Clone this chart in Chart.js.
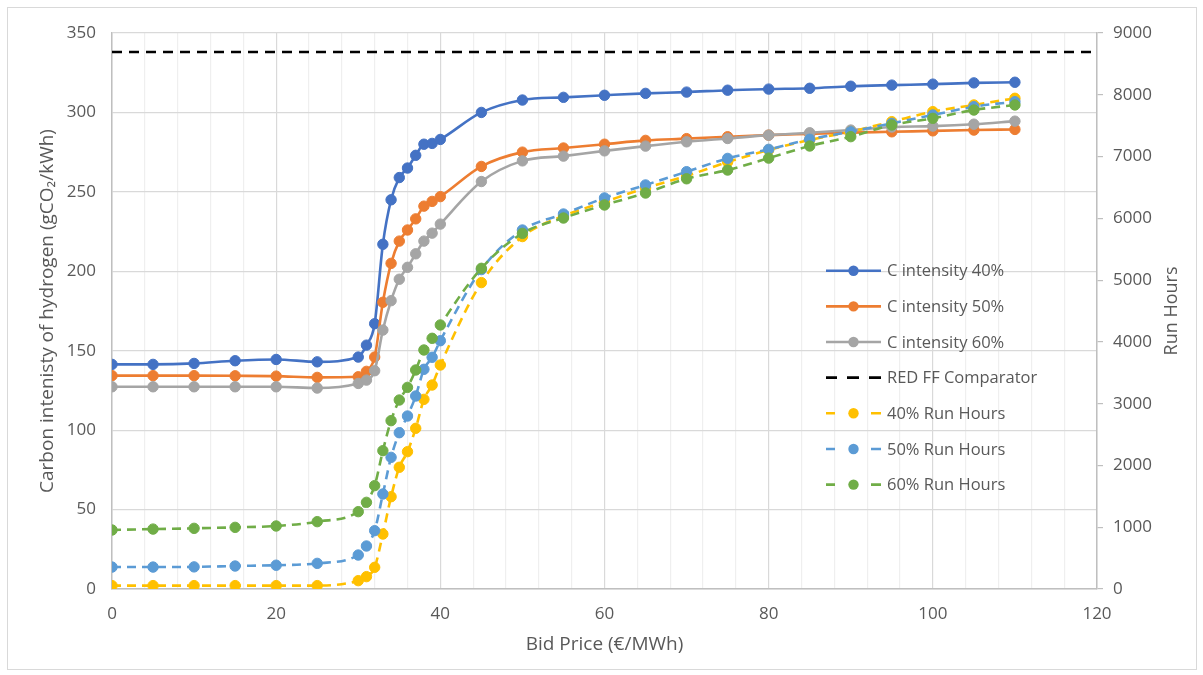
<!DOCTYPE html>
<html><head><meta charset="utf-8">
<script src="https://cdn.jsdelivr.net/npm/chart.js@4.4.0/dist/chart.umd.min.js"></script>
<style>html,body{margin:0;padding:0;background:#fff;}canvas{display:block;}</style>
</head><body>
<canvas id="c" width="1203" height="675"></canvas>
<script>
const bidPrice = [0,5,10,15,20,25,30,31,32,33,34,35,36,37,38,39,40,45,50,55,60,65,70,75,80,85,90,95,100,105,110];
const cInt40 = [141.4,141.4,142,143.7,144.5,143,146,153.5,167,217,245,259,265,273,280,280.5,283,300,307.8,309.5,310.8,312,312.8,314,314.7,315.2,316.5,317.2,317.8,318.6,319];
const cInt50 = [134.3,134.3,134.3,134.2,134,133.2,133.6,137,146,180.5,205,219,226,233,241,244,247,266,275,277.6,280,282.4,283.5,284.7,285.7,286.5,287.3,287.8,288.4,288.9,289.3];
const cInt60 = [127.3,127.3,127.3,127.3,127.3,126.5,129.4,131.5,137.4,163,181.5,195,202.5,211,219,224,229.7,256.5,269.5,272.5,275.8,278.8,281.5,283.6,285.7,287.2,288.9,290.8,291.4,292.6,294.5];
const redFF = 338;
const redFFRange = [0,120];
const runHours40 = [55,55,55,55,55,55,135,200,351,890,1494,1970,2223,2601,3070,3302,3626,4960,5705,6038,6265,6491,6686,6912,7106,7268,7403,7565,7727,7835,7943];
const runHours50 = [355,355,358,372,385,415,550,696,944,1538,2131,2530,2800,3124,3556,3751,4019,5170,5811,6070,6330,6540,6755,6970,7117,7280,7403,7538,7673,7807,7888];
const runHours60 = [955,970,982,998,1020,1090,1252,1403,1673,2239,2725,3059,3264,3545,3869,4058,4274,5191,5757,6005,6216,6410,6640,6782,6975,7171,7322,7511,7619,7753,7835];
const seriesLabels = ['C intensity 40%','C intensity 50%','C intensity 60%','RED FF Comparator','40% Run Hours','50% Run Hours','60% Run Hours'];
const xTicks = {min:0,max:120,step:4,major:20};
const yTicks = {min:0,max:350,step:50};
const y1Ticks = {min:0,max:9000,step:1000};
const rightTitle = 'Run Hours';

const FONT = '"Open Sans", sans-serif';
const TXT = '#595959';
const pts = arr => arr.map((v,i)=>({x:bidPrice[i],y:v}));

function series(label, data, color, axis, dashed, order){
  return {label, data:pts(data), yAxisID:axis, borderColor:color, backgroundColor:color,
    pointBackgroundColor:color, pointBorderColor:color, pointRadius:5.2, pointBorderWidth:1,
    borderWidth:2.6, borderDash: dashed?[9,6]:[], cubicInterpolationMode:'monotone', fill:false, order};
}
const datasets = [
  series(seriesLabels[0], cInt40, '#4472C4','y',false,7),
  series(seriesLabels[1], cInt50, '#ED7D31','y',false,6),
  series(seriesLabels[2], cInt60, '#A5A5A5','y',false,5),
  {label:seriesLabels[3], data:redFFRange.map(x=>({x,y:redFF})), yAxisID:'y', borderColor:'#000', backgroundColor:'#000',
    borderWidth:2.6, borderDash:[10,7], pointRadius:0, fill:false, order:4},
  series(seriesLabels[4], runHours40, '#FFC000','y1',true,3),
  series(seriesLabels[5], runHours50, '#5B9BD5','y1',true,2),
  series(seriesLabels[6], runHours60, '#70AD47','y1',true,1),
];

const frame = {
  id:'frame',
  beforeDraw(chart){
    const c = chart.ctx; c.save(); c.fillStyle='#fff'; c.fillRect(0,0,chart.width,chart.height);
    c.strokeStyle='#d9d9d9'; c.lineWidth=1; c.strokeRect(7.5,7.5,1189,662); c.restore();
  },
  afterDraw(chart){
    const c = chart.ctx, s = chart.scales.y1;
    c.save();
    c.translate(s.right - 31, (chart.chartArea.top + chart.chartArea.bottom)/2);
    c.rotate(-Math.PI/2);
    c.fillStyle = TXT; c.font = '18px '+FONT; c.textAlign='center'; c.textBaseline='middle';
    c.fillText(rightTitle, 0, 0);
    c.restore();
  }
};
const legend = {
  id:'customLegend',
  afterDraw(chart){
    const c = chart.ctx;
    chart.data.datasets.forEach((ds,i)=>{
      const y = 270.7 + i*35.65;
      c.save();
      c.strokeStyle = ds.borderColor; c.lineWidth = ds.borderWidth; c.lineCap='butt';
      if (ds.pointRadius>0 && ds.borderDash.length){
        c.beginPath(); c.moveTo(826,y); c.lineTo(835,y); c.moveTo(871,y); c.lineTo(881,y); c.stroke();
      } else if (ds.borderDash.length){
        c.beginPath(); c.moveTo(826,y); c.lineTo(837,y); c.moveTo(847,y); c.lineTo(859,y); c.moveTo(869,y); c.lineTo(881,y); c.stroke();
      } else {
        c.beginPath(); c.moveTo(826,y); c.lineTo(881,y); c.stroke();
      }
      if (ds.pointRadius>0){
        c.fillStyle = ds.backgroundColor; c.beginPath(); c.arc(853.5,y,ds.pointRadius,0,Math.PI*2); c.fill();
      }
      c.fillStyle = TXT; c.font = '16.5px '+FONT; c.textBaseline='middle'; c.textAlign='left';
      c.fillText(ds.label, 887, y+1);
      c.restore();
    });
  }
};

new Chart(document.getElementById('c'), {
  type:'line',
  data:{datasets},
  plugins:[frame, legend],
  options:{
    responsive:false, animation:false, devicePixelRatio:1,
    layout:{padding:{top:33,left:0,right:0,bottom:0}},
    plugins:{legend:{display:false}, tooltip:{enabled:false}},
    scales:{
      x:{type:'linear', min:xTicks.min, max:xTicks.max,
        ticks:{stepSize:xTicks.step, autoSkip:false, maxRotation:0, color:TXT, font:{family:FONT,size:17}, padding:15,
          callback:v=> v%xTicks.major===0 ? String(v) : ''},
        grid:{drawTicks:false, lineWidth:1.2, color:ctx=> (ctx.tick && ctx.tick.value%xTicks.major===0) ? '#d9d9d9' : '#efefef'},
        border:{color:'#bfbfbf', width:1.5},
        title:{display:true, text:'Bid Price (€/MWh)', color:TXT, font:{family:FONT,size:19}, padding:{top:0,bottom:18.6}},
        afterFit:s=>{s.height=86;}
      },
      y:{position:'left', min:yTicks.min, max:yTicks.max,
        ticks:{stepSize:yTicks.step, color:TXT, font:{family:FONT,size:17}, padding:16},
        grid:{drawTicks:false, color:'#d9d9d9', lineWidth:1.2},
        border:{color:'#bfbfbf', width:1.5},
        title:{display:true, text:'Carbon intenisty of hydrogen (gCO₂/kWh)', color:TXT, font:{family:FONT,size:19}, padding:{top:36.6,bottom:0}},
        afterFit:s=>{s.width=112;}
      },
      y1:{position:'right', min:y1Ticks.min, max:y1Ticks.max,
        ticks:{stepSize:y1Ticks.step, color:TXT, font:{family:FONT,size:17}, padding:10, callback:v=>String(v)},
        grid:{drawOnChartArea:false, drawTicks:true, tickLength:6, color:'#bfbfbf', lineWidth:1.2},
        border:{color:'#bfbfbf', width:1.5},
        title:{display:false},
        afterFit:s=>{s.width=106;}
      }
    }
  }
});
</script>
</body></html>
